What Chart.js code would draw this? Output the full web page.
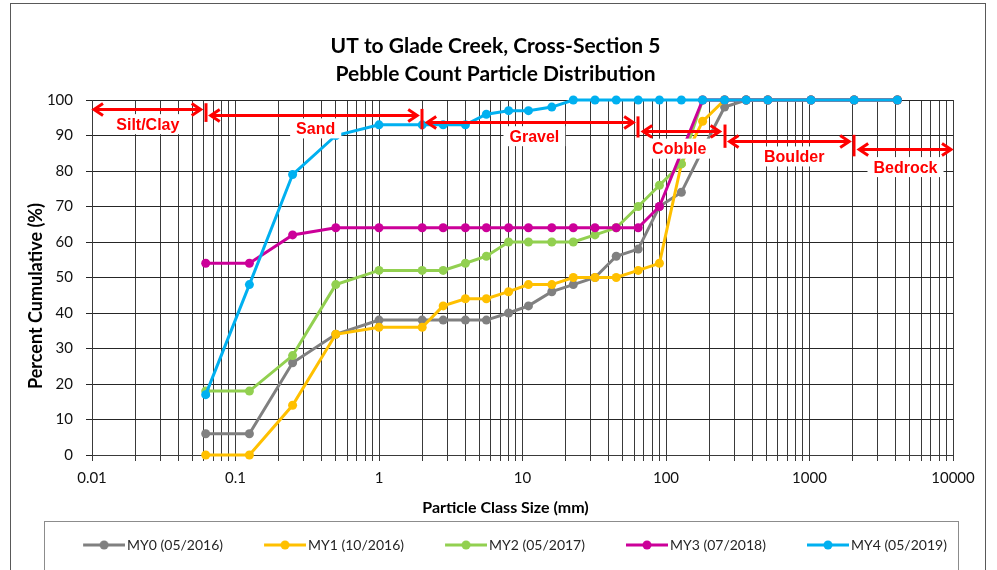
<!DOCTYPE html>
<html><head><meta charset="utf-8">
<script src="https://cdn.jsdelivr.net/npm/chart.js@4.4.1/dist/chart.umd.min.js"></script>
<style>html,body{margin:0;padding:0;background:#fff}#wrap{width:997px;height:570px}canvas{display:block}</style>
</head><body><div id="wrap"><canvas id="c" width="997" height="570"></canvas></div>
<script>
// ---- data ----
const sizes = [0.062,0.125,0.25,0.5,1,2,2.8,4,5.6,8,11,16,22.6,32,45,64,90,128,180,256,362,512,1024,2048,4096];
const my0 = [6,6,26,34,38,38,38,38,38,40,42,46,48,50,56,58,70,74,86,98,100,100,100,100,100];
const my1 = [0,0,14,34,36,36,42,44,44,46,48,48,50,50,50,52,54,82,94,100,100,100,100,100,100];
const my2 = [18,18,28,48,52,52,52,54,56,60,60,60,60,62,64,70,76,82,100,100,100,100,100,100,100];
const my3 = [54,54,62,64,64,64,64,64,64,64,64,64,64,64,64,64,70,null,100,100,100,100,100,100,100];
const my4 = [17,48,79,90,93,93,93,93,96,97,97,98,100,100,100,100,100,100,100,100,100,100,100,100,100];
const seriesNames = ['MY0 (05/2016)','MY1 (10/2016)','MY2 (05/2017)','MY3 (07/2018)','MY4 (05/2019)'];
const seriesColors = ['#808080','#FFC000','#92D050','#CC0099','#00B0F0'];
const xMajorLabels = ['0.01','0.1','1','10','100','1000','10000'];
const xMinorSteps = [1,2,3,4,5,6,7,8,9];
const yTicks = [0,10,20,30,40,50,60,70,80,90,100];
// particle-size zones (boundaries in mm)
const zoneBounds = [0.01,0.062,2,64,256,2048,10000];
const zoneNames = ['Silt/Clay','Sand','Gravel','Cobble','Boulder','Bedrock'];
const zoneArrowY = [97.4,95.8,93.7,91.4,88.5,86.1];
const zoneLabelX = [0.0245,0.362,12.1,123.6,783,4667];
const zoneLabelY = [93.2,92.0,89.8,86.3,84.1,81.1];

// ---- build ----
const seriesValues = [my0,my1,my2,my3,my4];
const xTickValues = [];
xMajorLabels.forEach((lab, i) => {
  const base = parseFloat(lab);
  if (i === xMajorLabels.length - 1) { xTickValues.push(base); return; }
  xMinorSteps.forEach(m => xTickValues.push(parseFloat((base * m).toPrecision(4))));
});

function makeIcon(color) {
  const c = document.createElement('canvas');
  c.width = 78; c.height = 12;
  const g = c.getContext('2d');
  g.strokeStyle = color; g.lineWidth = 3;
  g.beginPath(); g.moveTo(36, 6); g.lineTo(78, 6); g.stroke();
  g.fillStyle = color; g.beginPath(); g.arc(57, 6, 4.5, 0, Math.PI * 2); g.fill();
  return c;
}
const legendIcons = seriesColors.map(makeIcon);

const datasets = seriesValues.map((vals, i) => ({
  label: seriesNames[i],
  data: sizes.map((s, j) => ({x: s, y: vals[j]})),
  borderColor: seriesColors[i],
  backgroundColor: seriesColors[i],
  pointBackgroundColor: seriesColors[i],
  pointBorderWidth: 0,
  pointRadius: 4.5,
  borderWidth: 3,
  tension: 0,
  spanGaps: true,
  clip: false,
  order: seriesValues.length - i
}));

const zonePlugin = {
  id: 'zones',
  afterDatasetsDraw(chart) {
    const {ctx} = chart; const xs = chart.scales.x, ys = chart.scales.y;
    ctx.save();
    ctx.strokeStyle = '#FF0000'; ctx.lineWidth = 3; ctx.lineCap = 'butt'; ctx.lineJoin = 'miter';
    for (let i = 1; i < zoneBounds.length - 1; i++) {
      const px = Math.round(xs.getPixelForValue(zoneBounds[i]));
      const t = ys.getPixelForValue(zoneArrowY[i - 1]) - 6;
      const b = ys.getPixelForValue(zoneArrowY[i]) + 7;
      ctx.beginPath(); ctx.moveTo(px, t); ctx.lineTo(px, b); ctx.stroke();
    }
    for (let i = 0; i < zoneNames.length; i++) {
      let x1 = xs.getPixelForValue(zoneBounds[i]);
      let x2 = xs.getPixelForValue(zoneBounds[i + 1]);
      if (i > 0) x1 += 3;
      if (i < zoneNames.length - 1) x2 -= 3;
      const py = Math.round(ys.getPixelForValue(zoneArrowY[i])) + 0.5;
      ctx.beginPath(); ctx.moveTo(x1 + 2, py); ctx.lineTo(x2 - 2, py); ctx.stroke();
      ctx.beginPath(); ctx.moveTo(x1 + 11, py - 6); ctx.lineTo(x1 + 2, py); ctx.lineTo(x1 + 11, py + 6); ctx.stroke();
      ctx.beginPath(); ctx.moveTo(x2 - 11, py - 6); ctx.lineTo(x2 - 2, py); ctx.lineTo(x2 - 11, py + 6); ctx.stroke();
    }
    ctx.font = 'bold 16px "Liberation Sans", Arial, sans-serif';
    ctx.textAlign = 'center'; ctx.textBaseline = 'middle';
    for (let i = 0; i < zoneNames.length; i++) {
      const lx = xs.getPixelForValue(zoneLabelX[i]);
      const ly = ys.getPixelForValue(zoneLabelY[i]);
      const w = ctx.measureText(zoneNames[i]).width;
      ctx.fillStyle = '#FFFFFF';
      ctx.fillRect(lx - w / 2 - 6, ly - 10, w + 12, 20);
      ctx.fillStyle = '#FF0000';
      ctx.fillText(zoneNames[i], lx, ly + 1);
    }
    ctx.restore();
  }
};

const framePlugin = {
  id: 'frame',
  beforeLayout(chart) {
    const lg = chart.legend;
    if (lg && !lg._patched) {
      const orig = lg.fit;
      lg.fit = function () { orig.call(this); this.height = 49; };
      lg._patched = true;
    }
  },
  afterLayout(chart) {
    const lg = chart.legend;
    if (lg) { lg.top += 7; lg.left += 4; lg.right += 4; }
  },
  afterDraw(chart) {
    const {ctx} = chart;
    ctx.save();
    ctx.strokeStyle = '#595959'; ctx.lineWidth = 1;
    ctx.strokeRect(10.5, 3.5, 975, 640);
    ctx.strokeStyle = '#8c8c8c';
    ctx.strokeRect(44.5, 521.5, 914, 80);
    ctx.fillStyle = '#000';
    ctx.textAlign = 'center'; ctx.textBaseline = 'middle';
    ctx.font = 'bold 16px Lato, "Open Sans", sans-serif';
    ctx.fillText('Particle Class Size (mm)', 505.5, 508);
    ctx.font = 'bold 18px Lato, "Open Sans", sans-serif';
    ctx.translate(36, 296); ctx.rotate(-Math.PI / 2);
    ctx.fillText('Percent Cumulative (%)', 0, 0);
    ctx.restore();
  }
};

Chart.defaults.font.family = 'Lato, "Open Sans", sans-serif';
new Chart(document.getElementById('c'), {
  type: 'line',
  data: {datasets},
  plugins: [zonePlugin, framePlugin],
  options: {
    responsive: false,
    animation: false,
    devicePixelRatio: 1,
    layout: {padding: {left: 38, right: 44, top: 0, bottom: 0}},
    plugins: {
      tooltip: {enabled: false},
      title: {
        display: true,
        text: ['UT to Glade Creek, Cross-Section 5', 'Pebble Count Particle Distribution'],
        color: '#000',
        font: {family: 'Lato', size: 21, weight: 'bold', lineHeight: '28px'},
        padding: {top: 32, bottom: 12}
      },
      legend: {
        position: 'bottom',
        labels: {
          usePointStyle: true,
          pointStyleWidth: 68,
          padding: 10,
          color: '#262626',
          font: {family: 'Lato', size: 14},
          generateLabels(chart) {
            const items = Chart.defaults.plugins.legend.labels.generateLabels(chart);
            items.forEach(it => { it.pointStyle = legendIcons[it.datasetIndex]; it.lineWidth = 0; });
            return items;
          },
          sort: (a, b) => a.datasetIndex - b.datasetIndex
        }
      }
    },
    scales: {
      x: {
        type: 'logarithmic',
        min: 0.01, max: 10000,
        afterBuildTicks: (scale) => { scale.ticks = xTickValues.map(v => ({value: v})); },
        afterFit: (scale) => { scale.height = 66; },
        ticks: {
          autoSkip: false, maxRotation: 0, padding: 8, color: '#111',
          font: {size: 15},
          callback: (v) => {
            const idx = xMajorLabels.findIndex(l => Math.abs(parseFloat(l) - v) < 1e-9 * Math.max(1, v));
            return idx >= 0 ? xMajorLabels[idx] : '';
          }
        },
        grid: {color: '#3a3a3a', lineWidth: 1, tickLength: 6, tickColor: '#3a3a3a'},
        border: {color: '#3a3a3a'}
      },
      y: {
        type: 'linear',
        min: 0, max: 100,
        afterBuildTicks: (scale) => { scale.ticks = yTicks.map(v => ({value: v})); },
        afterFit: (scale) => { scale.width = 54; },
        ticks: {padding: 13, color: '#111', font: {size: 15}},
        grid: {color: '#262626', lineWidth: 1, tickLength: 6, tickColor: '#262626'},
        border: {color: '#3a3a3a'}
      }
    }
  }
});
</script></body></html>
